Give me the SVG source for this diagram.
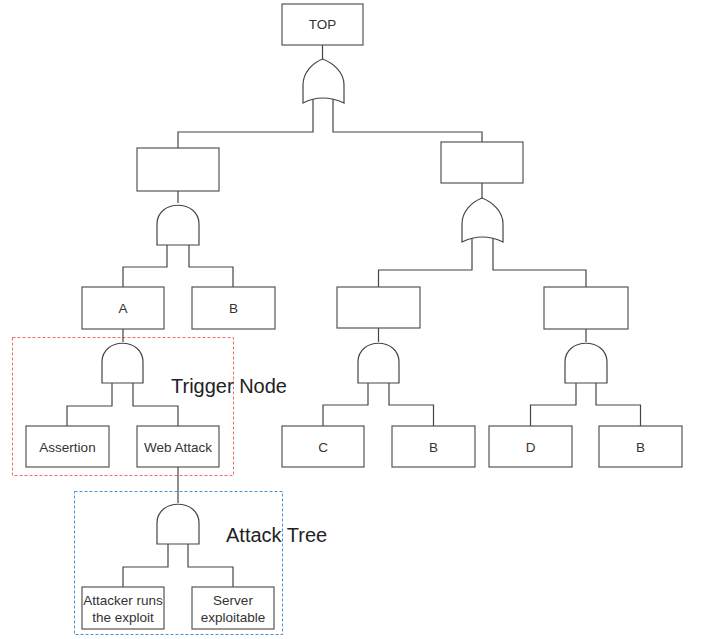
<svg xmlns="http://www.w3.org/2000/svg" width="702" height="639" viewBox="0 0 702 639">
  <style>
    .box { fill: #ffffff; stroke: #555555; stroke-width: 1.2; }
    .gate { fill: #ffffff; stroke: #444444; stroke-width: 1.2; }
    .wire { fill: none; stroke: #444444; stroke-width: 1.2; }
    .lbl { font-family: "Liberation Sans", Arial, sans-serif; font-size: 13.5px; fill: #333333; text-anchor: middle; }
    .cap { font-family: "Liberation Sans", Arial, sans-serif; font-size: 20px; fill: #222222; }
    .zone-red { fill: none; stroke: #f26b6b; stroke-width: 1; stroke-dasharray: 3 2; }
    .zone-blue { fill: none; stroke: #4a90d9; stroke-width: 1; stroke-dasharray: 3 2; }
  </style>

  <rect width="702" height="639" fill="#ffffff"/>

  <!-- dashed grouping frames -->
  <g id="trigger-frame">
    <rect class="zone-red" x="12.5" y="337.5" width="221" height="138"/>
    <text class="cap" x="171" y="393">Trigger Node</text>
  </g>
  <g id="attack-frame">
    <rect class="zone-blue" x="74.5" y="491.5" width="208" height="143"/>
    <text class="cap" x="226" y="542">Attack Tree</text>
  </g>

  <!-- connectors -->
  <g id="connectors">
    <path class="wire" d="M322.5 45 V60"/>
    <path class="wire" d="M313 99 V132 H178 V148"/>
    <path class="wire" d="M333 99 V132 H482 V142"/>
    <path class="wire" d="M178 191 V203"/>
    <path class="wire" d="M167 245 V267 H123 V287"/>
    <path class="wire" d="M189 245 V267 H233 V287"/>
    <path class="wire" d="M482 183 V199"/>
    <path class="wire" d="M472 238 V270 H378.5 V287"/>
    <path class="wire" d="M493 238 V270 H586 V287"/>
    <path class="wire" d="M123 329 V342"/>
    <path class="wire" d="M112 383 V406 H67 V426"/>
    <path class="wire" d="M133 383 V406 H178 V426"/>
    <path class="wire" d="M178 467 V503"/>
    <path class="wire" d="M168 544 V567 H123 V587"/>
    <path class="wire" d="M188 544 V567 H233 V587"/>
    <path class="wire" d="M378.5 328 V342"/>
    <path class="wire" d="M368 383 V405 H323 V426"/>
    <path class="wire" d="M389 383 V405 H433.5 V426"/>
    <path class="wire" d="M586 329 V342"/>
    <path class="wire" d="M576 383 V405 H530.5 V426"/>
    <path class="wire" d="M596 383 V405 H640.5 V426"/>
  </g>

  <!-- top event -->
  <g id="top">
    <rect class="box" x="282" y="4" width="81" height="41"/>
    <text class="lbl" x="322.5" y="29">TOP</text>
  </g>
  <g id="or-top">
    <path class="gate" d="M322.5 59 C313 63 303 72 303 85 V103 Q322.5 93 344 103 V85 C344 72 333 63 322.5 59 Z"/>
  </g>

  <!-- left branch -->
  <g id="left-event">
    <rect class="box" x="137" y="148" width="82" height="43"/>
  </g>
  <g id="and-left">
    <path class="gate" d="M157 245 V224 C157 199 199 199 199 224 V245 Z"/>
  </g>
  <g id="event-a">
    <rect class="box" x="82" y="287" width="82" height="42"/>
    <text class="lbl" x="123" y="313">A</text>
  </g>
  <g id="event-b1">
    <rect class="box" x="192" y="287" width="83" height="42"/>
    <text class="lbl" x="233.5" y="313">B</text>
  </g>
  <g id="and-a">
    <path class="gate" d="M102 383 V362 C102 337 143 337 143 362 V383 Z"/>
  </g>
  <g id="assertion">
    <rect class="box" x="26" y="426" width="83" height="41"/>
    <text class="lbl" x="67.5" y="452">Assertion</text>
  </g>
  <g id="web-attack">
    <rect class="box" x="137" y="426" width="82" height="41"/>
    <text class="lbl" x="178" y="452">Web Attack</text>
  </g>
  <g id="and-attack">
    <path class="gate" d="M157 544 V523 C157 498 199 498 199 523 V544 Z"/>
  </g>
  <g id="attacker-runs">
    <rect class="box" x="82" y="587" width="82" height="42"/>
    <text class="lbl" x="123" y="605">Attacker runs</text>
    <text class="lbl" x="123" y="622">the exploit</text>
  </g>
  <g id="server-exploitable">
    <rect class="box" x="192" y="587" width="82" height="42"/>
    <text class="lbl" x="233" y="605">Server</text>
    <text class="lbl" x="233" y="622">exploitable</text>
  </g>

  <!-- right branch -->
  <g id="right-event">
    <rect class="box" x="441" y="142" width="82" height="41"/>
  </g>
  <g id="or-right">
    <path class="gate" d="M482 198 C472 202 462 211 462 224 V242 Q482.5 232 503 242 V224 C503 211 492 202 482 198 Z"/>
  </g>
  <g id="mid-left-event">
    <rect class="box" x="337" y="287" width="83" height="41"/>
  </g>
  <g id="and-mid-left">
    <path class="gate" d="M358 383 V362 C358 337 399 337 399 362 V383 Z"/>
  </g>
  <g id="event-c">
    <rect class="box" x="282" y="426" width="82" height="41"/>
    <text class="lbl" x="323" y="452">C</text>
  </g>
  <g id="event-b2">
    <rect class="box" x="392" y="426" width="83" height="41"/>
    <text class="lbl" x="433.5" y="452">B</text>
  </g>
  <g id="mid-right-event">
    <rect class="box" x="544" y="287" width="84" height="42"/>
  </g>
  <g id="and-mid-right">
    <path class="gate" d="M565 383 V362 C565 337 607 337 607 362 V383 Z"/>
  </g>
  <g id="event-d">
    <rect class="box" x="489" y="426" width="83" height="41"/>
    <text class="lbl" x="530.5" y="452">D</text>
  </g>
  <g id="event-b3">
    <rect class="box" x="599" y="426" width="83" height="41"/>
    <text class="lbl" x="640.5" y="452">B</text>
  </g>
</svg>
